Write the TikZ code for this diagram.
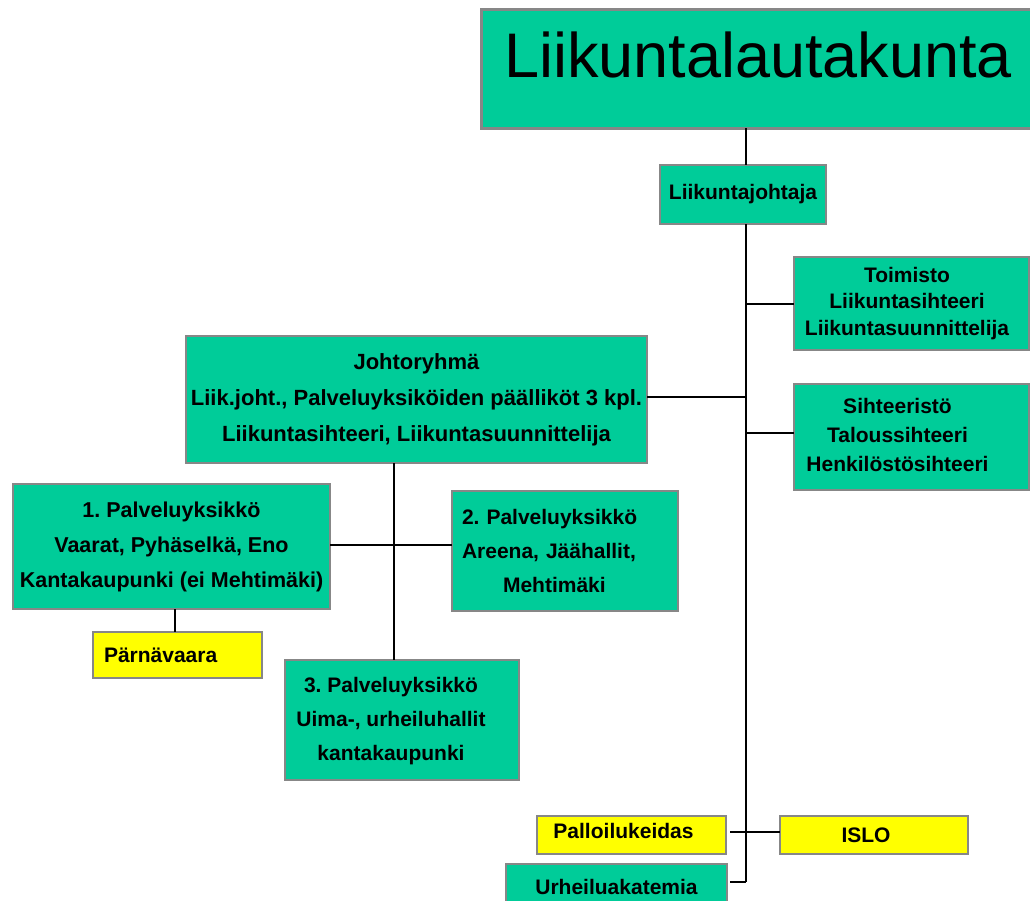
\documentclass[tikz,border=0pt]{standalone}
\usepackage{fontspec}
\setmainfont{Liberation Sans}
\frenchspacing
\usetikzlibrary{calc}
\definecolor{orggreen}{RGB}{0,204,153}
\definecolor{orgyellow}{RGB}{255,255,0}
\definecolor{orgframe}{RGB}{135,135,135}
\tikzset{unitbox/.style={draw=orgframe,line width=2pt,fill=orggreen,inner sep=0pt,outer sep=0pt,
           align=center,font=\bfseries\fontsize{21}{34}\selectfont},
         notebox/.style={unitbox,fill=orgyellow},
         link/.style={line width=2pt,black}}
\newcommand{\lpad}[1]{\hspace*{#1pt}}
\newcommand{\leftblock}[2]{\begin{tabular}{@{}c@{}}#2\end{tabular}\hspace*{#1pt}}

\begin{document}
\begin{tikzpicture}[x=1pt,y=1pt]
      \useasboundingbox (0,0) rectangle (1030,-900);

      \node[unitbox,line width=3pt,minimum width=554,minimum height=119,font=\fontsize{63}{70}\selectfont,
            text height=45pt,text depth=28pt] (lautakunta) at (758,-68.5) {Liikuntalautakunta};
      \node[unitbox,minimum width=166,minimum height=59] (johtaja) at (743,-194.5) {Liikuntajohtaja};

      \node[unitbox,minimum width=235,minimum height=93,font=\bfseries\fontsize{21}{26.5}\selectfont]
            (toimisto) at (911.5,-303.5) {\leftblock{9}{Toimisto\\Liikuntasihteeri\\Liikuntasuunnittelija}};
      \node[unitbox,minimum width=235,minimum height=106,font=\bfseries\fontsize{21}{29}\selectfont]
            (sihteeristo) at (911.5,-437) {\leftblock{28}{Sihteeristö\\Taloussihteeri\\Henkilöstösihteeri}};

      \node[unitbox,minimum width=461,minimum height=127,font=\bfseries\fontsize{22}{36}\selectfont]
            (johto) at (416.5,-399.5) {Johtoryhmä\\Liik.joht., Palveluyksiköiden päälliköt 3 kpl.\\Liikuntasihteeri, Liikuntasuunnittelija};

      \node[unitbox,minimum width=317,minimum height=125,font=\bfseries\fontsize{21.5}{35}\selectfont]
            (palv1) at (171.5,-546.5) {1. Palveluyksikkö\\Vaarat, Pyhäselkä, Eno\\Kantakaupunki (ei Mehtimäki)};
      \node[unitbox,minimum width=226,minimum height=120,text width=206,inner xsep=10pt,align=left]
            (palv2) at (565,-551) {2. Palveluyksikkö\\Areena, Jäähallit,\\\lpad{41}Mehtimäki};
      \node[unitbox,minimum width=234,minimum height=120]
            (palv3) at (402,-720) {\leftblock{22}{3. Palveluyksikkö\\Uima-, urheiluhallit\\kantakaupunki}};

      \node[notebox,minimum width=169,minimum height=46,text width=147,inner xsep=11pt,align=left]
            (parna) at (177.5,-655) {Pärnävaara};
      \node[notebox,minimum width=189,minimum height=38,text depth=8pt] (pallo) at (631.5,-835) {Palloilukeidas\lpad{16}};
      \node[notebox,minimum width=188,minimum height=38] (islo) at (874,-835) {ISLO\lpad{16}};
      \node[unitbox,minimum width=221,minimum height=46] (akatemia) at (616.5,-887) {Urheiluakatemia};

      \coordinate (trunk) at (746,-224);
      \coordinate (trunkend) at (746,-882);
      \coordinate (split) at (394,-545);

      \draw[link] (trunk |- lautakunta.south) -- (trunk |- johtaja.north);
      \draw[link] (trunk |- johtaja.south) -- (trunkend);

      \draw[link] (trunk |- toimisto.west) -- (toimisto.west);
      \draw[link] ($(johto.east)+(0,3)$) -- (trunk |- {$(johto.east)+(0,3)$});
      \draw[link] ($(trunk |- sihteeristo.west)+(0,4)$) -- ($(sihteeristo.west)+(0,4)$);

      \draw[link] (split |- johto.south) -- (split |- palv3.north);
      \draw[link] (palv1.east |- split) -- (palv2.west |- split);
      \draw[link] ($(palv1.south)+(3.5,0)$) -- ($(palv1.south |- parna.north)+(3.5,0)$);

      \draw[link] ($(pallo.east)+(4,3)$) -- ($(islo.west)+(0,3)$);
      \draw[link] ($(akatemia.east |- trunkend)+(3,0)$) -- (trunkend);
    \end{tikzpicture}
\end{document}
